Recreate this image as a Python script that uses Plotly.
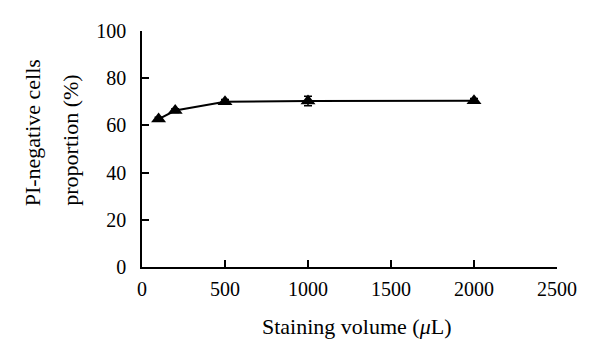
import plotly.graph_objects as go

volume = [100, 200, 500, 1000, 2000]
proportion = [62.7, 66.3, 70.0, 70.3, 70.4]
error = [0.8, 0.8, 1.0, 2.0, 1.0]
x_ticks = [0, 500, 1000, 1500, 2000, 2500]
y_ticks = [0, 20, 40, 60, 80, 100]

FONT = "Liberation Serif"

fig = go.Figure()
fig.add_trace(go.Scatter(
    x=volume, y=proportion, mode="lines+markers",
    line=dict(color="black", width=2),
    marker=dict(symbol="triangle-up", size=13, color="black"),
    error_y=dict(type="data", array=error, visible=True, color="black", thickness=1.5, width=4),
    showlegend=False,
))

axis_common = dict(
    showgrid=False, zeroline=False, showline=True, linecolor="black", linewidth=1.5,
    ticks="inside", ticklen=7, tickwidth=1.5, tickcolor="black",
    tickfont=dict(family=FONT, size=20, color="black"),
)
fig.update_xaxes(range=[0, 2500], tickvals=x_ticks, ticklabelstandoff=3, **axis_common)
fig.update_yaxes(range=[0, 100], tickvals=y_ticks, ticklabelstandoff=10, **axis_common)

fig.add_annotation(
    text="Staining volume (<i>μ</i>L)", xref="paper", yref="paper",
    x=0.518, y=-0.254, xanchor="center", yanchor="middle", showarrow=False,
    font=dict(family=FONT, size=22, color="black"),
)
fig.add_annotation(
    text="PI-negative cells", xref="paper", yref="paper",
    x=-0.263, y=0.57, xanchor="center", yanchor="middle", textangle=-90, showarrow=False,
    font=dict(family=FONT, size=22, color="black"),
)
fig.add_annotation(
    text="proportion (%)", xref="paper", yref="paper",
    x=-0.173, y=0.536, xanchor="center", yanchor="middle", textangle=-90, showarrow=False,
    font=dict(family=FONT, size=22, color="black"),
)

fig.update_layout(
    width=600, height=355,
    margin=dict(l=134, r=51, t=23, b=96),
    paper_bgcolor="white", plot_bgcolor="white",
)
fig.write_html("out.html")
